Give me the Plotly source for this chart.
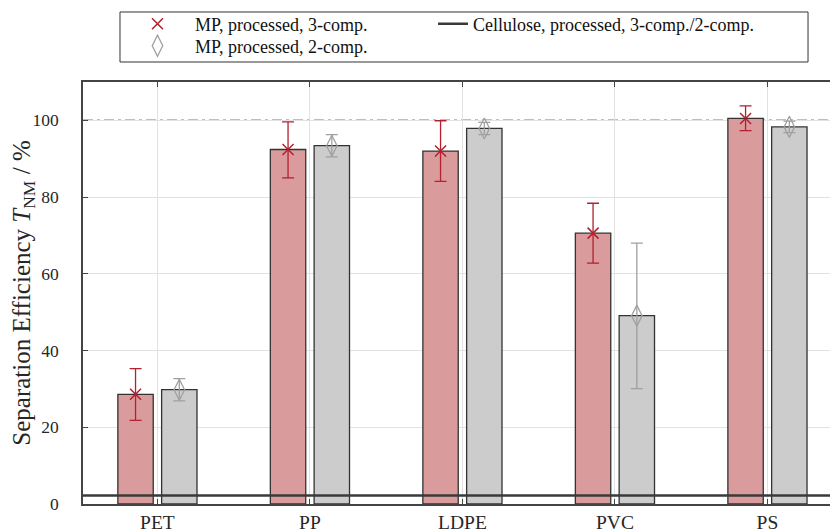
import numpy as np
import plotly.graph_objects as go

# ---------------- data ----------------
categories = ["PET", "PP", "LDPE", "PVC", "PS"]

mp3_mean = [28.6, 92.4, 92.0, 70.6, 100.5]
mp3_err_plus = [6.7, 7.2, 7.9, 7.8, 3.3]
mp3_err_minus = [6.8, 7.4, 7.9, 7.8, 3.2]

mp2_mean = [29.8, 93.4, 97.9, 49.1, 98.3]
mp2_err_plus = [2.9, 2.9, 1.6, 18.9, 1.5]
mp2_err_minus = [2.9, 2.9, 1.6, 19.0, 1.5]

cellulose_value = 2.2
reference_value = 100

y_ticks = [0, 20, 40, 60, 80, 100]

# ---------------- layout helpers ----------------
FONT = "Liberation Serif"
idx = np.arange(len(categories))
offset = 0.1435
bar_width = 0.232
x_lo, x_hi = -0.488, 4.4626

red_fill = "#d99b9b"
grey_fill = "#cccccc"
red_line = "#b3202e"
grey_line = "#a0a0a0"
edge = "#333333"

fig = go.Figure()

fig.add_trace(go.Bar(
    x=idx - offset, y=mp3_mean, width=bar_width,
    marker=dict(color=red_fill, line=dict(color=edge, width=1.3)),
    showlegend=False, hoverinfo="skip"))
fig.add_trace(go.Bar(
    x=idx + offset, y=mp2_mean, width=bar_width,
    marker=dict(color=grey_fill, line=dict(color=edge, width=1.3)),
    showlegend=False, hoverinfo="skip"))

fig.add_trace(go.Scatter(
    x=idx - offset, y=mp3_mean, mode="markers",
    name="MP, processed, 3-comp.", legend="legend",
    marker=dict(symbol="x-thin-open", size=11, color=red_line,
                line=dict(color=red_line, width=1.5)),
    error_y=dict(type="data", symmetric=False, array=mp3_err_plus,
                 arrayminus=mp3_err_minus, color=red_line,
                 thickness=1.3, width=6)))

fig.add_trace(go.Scatter(
    x=[x_lo, x_hi], y=[cellulose_value, cellulose_value], mode="lines",
    name="Cellulose, processed, 3-comp./2-comp.", legend="legend2",
    line=dict(color="#3a3a3a", width=2.5)))

fig.add_trace(go.Scatter(
    x=idx + offset, y=mp2_mean, mode="markers",
    name="MP, processed, 2-comp.", legend="legend3",
    marker=dict(symbol="diamond-tall-open", size=15, color=grey_line,
                line=dict(color=grey_line, width=1.3)),
    error_y=dict(type="data", symmetric=False, array=mp2_err_plus,
                 arrayminus=mp2_err_minus, color=grey_line,
                 thickness=1.3, width=6)))

fig.add_hline(y=reference_value,
              line=dict(color="#7f7f7f", width=1.5, dash="10px,4px,3px,4px"),
              layer="below")

# outer frame of the legend
fig.add_shape(type="rect", xref="paper", yref="paper",
              x0=0.049, x1=0.9603, y0=1.0474, y1=1.1659,
              line=dict(color="#333333", width=1), fillcolor="rgba(0,0,0,0)")

legend_font = dict(family=FONT, size=18, color="#111111")
legend_common = dict(orientation="v", xanchor="left", yanchor="top", borderwidth=0,
                     bgcolor="rgba(0,0,0,0)", font=legend_font)

fig.update_layout(
    width=830, height=524,
    margin=dict(l=75, r=0, t=74, b=28, autoexpand=False),
    paper_bgcolor="white", plot_bgcolor="white",
    font=dict(family=FONT, size=18, color="#262626"),
    barmode="overlay",
    legend=dict(x=0.049, y=1.181, itemwidth=65, **legend_common),
    legend3=dict(x=0.049, y=1.129, itemwidth=65, **legend_common),
    legend2=dict(x=0.4636, y=1.181, **legend_common),
    xaxis=dict(range=[x_lo, x_hi], tickmode="array", tickvals=idx, ticktext=categories,
               showgrid=True, gridcolor="#e2e2e2", gridwidth=1,
               showline=True, linecolor="#444444", linewidth=1.5, mirror="ticks",
               ticks="inside", ticklen=5, tickcolor="#444444", zeroline=False,
               ticklabelstandoff=0, tickfont=dict(size=19.5), automargin=False),
    yaxis=dict(range=[0, 110], tickmode="array", tickvals=y_ticks,
               showgrid=True, gridcolor="#e2e2e2", gridwidth=1,
               showline=True, linecolor="#444444", linewidth=1.5, mirror=False,
               ticks="inside", ticklen=5, tickcolor="#444444", zeroline=False,
               ticklabelstandoff=19, tickfont=dict(size=17.5), automargin=False,
               title=dict(text="Separation Efficiency <i>T</i><sub>NM</sub> / %",
                          font=dict(size=25), standoff=10)),
)

fig.write_html("out.html")
